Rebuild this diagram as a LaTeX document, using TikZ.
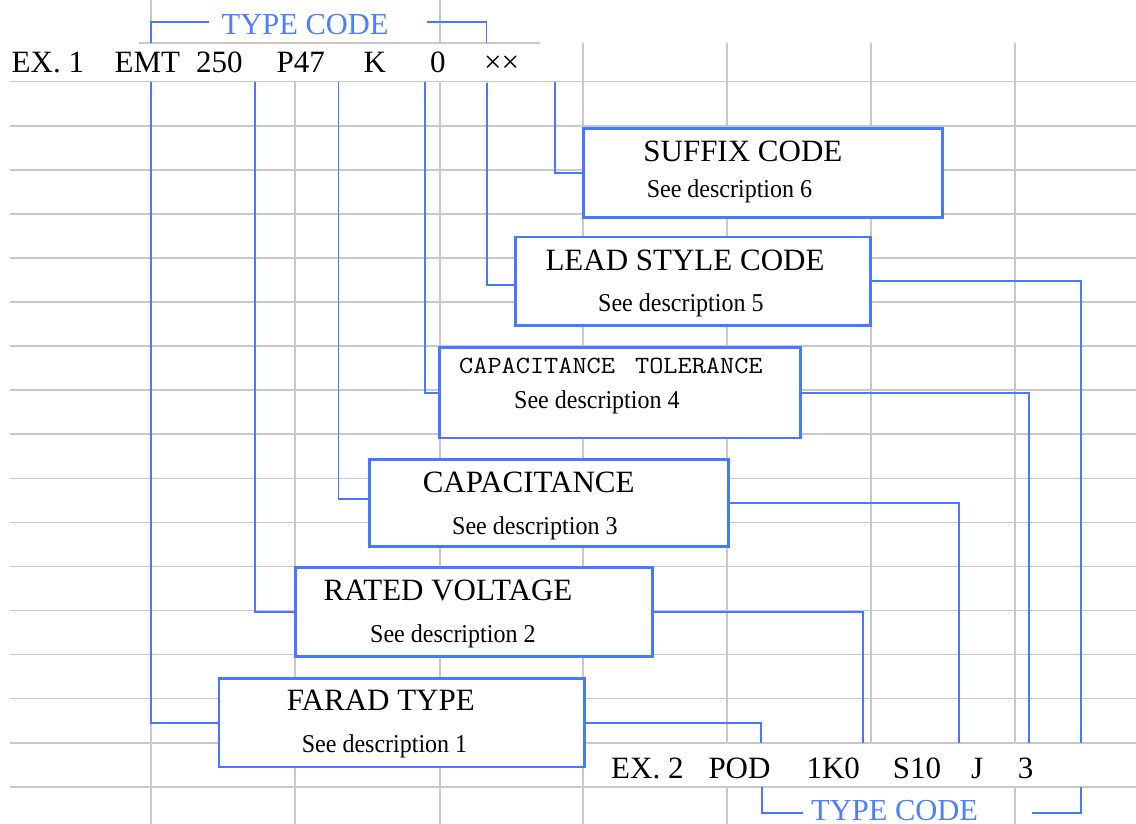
\documentclass[tikz,border=0pt]{standalone}
\usepackage{fontspec}
\setmainfont{Liberation Serif}
\definecolor{gridgray}{RGB}{200,200,200}
\definecolor{lineblue}{RGB}{72,120,255}
\definecolor{textblue}{RGB}{78,126,255}
\newcommand{\descr}[1]{\scalebox{1}[1.07]{See description #1}}
\tikzset{
  gridline/.style={draw=gridgray, line width=1.6pt},
  conn/.style={draw=lineblue, line width=1.8pt},
  codebox/.style={draw=lineblue, line width=1.8pt, fill=white, inner sep=0pt, anchor=north west},
  lbl/.style={anchor=base west, inner sep=0pt, text=black},
  rowtxt/.style={lbl, font=\fontsize{31}{31}\selectfont},
  titletxt/.style={lbl, font=\fontsize{31}{31}\selectfont},
  desctxt/.style={lbl, font=\fontsize{24}{24}\selectfont},
  monotxt/.style={lbl, font=\ttfamily\fontsize{27.5}{27.5}\selectfont},
  tctxt/.style={anchor=base west, inner sep=0pt, text=textblue, font=\fontsize{30.5}{30.5}\selectfont},
}
\begin{document}
\begin{tikzpicture}[x=1pt,y=-1pt]
% page
\path[use as bounding box, fill=white] (0,0) rectangle (1136,824);

% ---------- grid ----------
\foreach \k in {0,...,16}
  \draw[gridline] (10,{81.7+44.07*\k}) -- (1136,{81.7+44.07*\k});
\draw[gridline] (139,43.3) -- (540,43.3);
\draw[gridline] (151,0) -- (151,43.3);
\draw[gridline] (151,81.7) -- (151,824);
\draw[gridline] (295,81.7) -- (295,824);
\draw[gridline] (440,0) -- (440,43.3);
\draw[gridline] (440,81.7) -- (440,824);
\draw[gridline] (583,43.3) -- (583,824);
\foreach \xx in {727,871,1015}
  \draw[gridline] (\xx,43.3) -- (\xx,742.8);
\draw[gridline] (727,786.8) -- (727,824);
\draw[gridline] (1015,786.8) -- (1015,824);

% ---------- boxes ----------
\node[codebox, minimum width=358pt, minimum height=87.7pt] (sfx) at (583,128.3) {};
\node[codebox, minimum width=353.8pt, minimum height=87.8pt] (lead) at (515,236.5) {};
\node[codebox, minimum width=360pt, minimum height=90pt] (tol) at (439,346.7) {};
\node[codebox, minimum width=358pt, minimum height=85.8pt] (cap) at (369,459.2) {};
\node[codebox, minimum width=356pt, minimum height=88pt] (volt) at (295,567.3) {};
\node[codebox, minimum width=364.5pt, minimum height=88pt] (farad) at (218.5,677.7) {};

% ---------- connector end points ----------
\coordinate (tbl) at (209,21.7);
\coordinate (tbe) at (151,43.3);
\coordinate (tbr) at (427,21.7);
\coordinate (tbf) at (486.5,43.3);
\coordinate (kE) at (151,81.7);
\coordinate (k250) at (255,81.7);
\coordinate (kP) at (338.5,81.7);
\coordinate (kK) at (425,81.7);
\coordinate (kO) at (486.7,83);
\coordinate (kX) at (555,81.7);
\coordinate (d1) at (761,742.8);
\coordinate (d2) at (863,742.8);
\coordinate (d3) at (959,742.8);
\coordinate (d4) at (1029,742.8);
\coordinate (d5) at (1081,742.8);
\coordinate (bbl) at (762,786.8);
\coordinate (bbh) at (802.5,813.3);
\coordinate (bbr) at (1032,813.3);
\coordinate (bbe) at (1081,786.8);

% ---------- connectors ----------
\draw[conn] (tbl) -| (tbe);
\draw[conn] (tbr) -| (tbf);
\draw[conn] (kE) |- (farad.west);
\draw[conn] (k250) |- (volt.west);
\draw[conn] (kP) |- ([yshift=4pt]cap.west);
\draw[conn] (kK) |- (tol.west);
\draw[conn] (kO) |- ([yshift=-4pt]lead.west);
\draw[conn] (kX) |- (sfx.west);
\draw[conn] (farad.east) -| (d1);
\draw[conn] (volt.east) -| (d2);
\draw[conn] (cap.east) -| (d3);
\draw[conn] (tol.east) -| (d4);
\draw[conn] (lead.east) -| (d5);
\draw[conn] (bbl) |- (bbh);
\draw[conn] (bbr) -| (bbe);

% redraw box borders on top
\foreach \b in {sfx,lead,tol,cap,volt,farad}
  \draw[draw=lineblue, line width=1.8pt] (\b.north west) rectangle (\b.south east);

% ---------- type code labels ----------
\node[tctxt] (tctop) at (221.5,35) {TYPE CODE};
\node[tctxt] (tcbot) at (811,820.5) {TYPE CODE};

% ---------- row 1 ----------
\node[rowtxt] (r1a) at (11.5,72.7) {EX. 1};
\node[rowtxt] (r1b) at (114.5,72.7) {EMT};
\node[rowtxt] (r1c) at (196,72.7) {250};
\node[rowtxt] (r1d) at (276.5,72.7) {P47};
\node[rowtxt] (r1e) at (363.5,72.7) {K};
\node[rowtxt] (r1f) at (430,72.7) {0};
\node[rowtxt] (r1g) at (484,72.7) {××};

% ---------- row 2 ----------
\node[rowtxt] (r2a) at (611,778.3) {EX. 2};
\node[rowtxt] (r2b) at (708.3,778.3) {POD};
\node[rowtxt] (r2c) at (806.4,778.3) {1K0};
\node[rowtxt] (r2d) at (892.7,778.3) {S10};
\node[rowtxt] (r2e) at (971,778.3) {J};
\node[rowtxt] (r2f) at (1017.7,778.3) {3};

% ---------- box texts ----------
\node[titletxt] (sfxT) at (643.2,161.7) {SUFFIX CODE};
\node[desctxt] (sfxD) at (646.6,197) {\descr{6}};
\node[titletxt] (leadT) at (545.3,270) {LEAD STYLE CODE};
\node[desctxt] (leadD) at (598,311.7) {\descr{5}};
\node[monotxt] (tolT) at (459,373.3) {\scalebox{1}[0.9]{CAPACITANCE\ \hspace{6pt}TOLERANCE}};
\node[desctxt] (tolD) at (514,408) {\descr{4}};
\node[titletxt] (capT) at (422.6,492.3) {CAPACITANCE};
\node[desctxt] (capD) at (452,534) {\descr{3}};
\node[titletxt] (voltT) at (323.5,600.7) {RATED VOLTAGE};
\node[desctxt] (voltD) at (370,642) {\descr{2}};
\node[titletxt] (faradT) at (286.6,710.7) {FARAD TYPE};
\node[desctxt] (faradD) at (301.7,752.3) {\descr{1}};
\end{tikzpicture}
\end{document}
